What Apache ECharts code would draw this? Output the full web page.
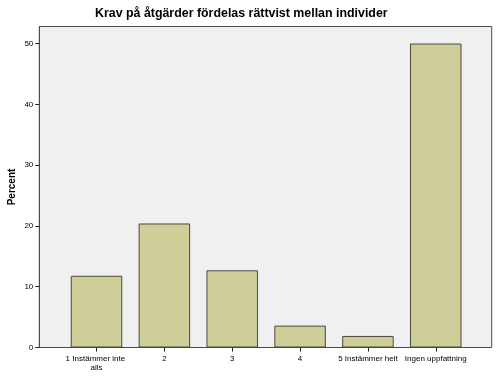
<!DOCTYPE html>
<html>
<head>
<meta charset="utf-8">
<script src="https://cdn.jsdelivr.net/npm/echarts@6/dist/echarts.min.js"></script>
<style>
html,body{margin:0;padding:0;background:#fff;}
#chart{width:497px;height:379px;}
</style>
</head>
<body>
<div id="chart"></div>
<script>
const title = 'Krav på åtgärder fördelas rättvist mellan individer';
const categories = ['1 Instämmer inte alls', '2', '3', '4', '5 Instämmer helt', 'Ingen uppfattning'];
const percentValues = [11.8, 20.4, 12.7, 3.6, 1.9, 50.0];
const yTicks = [0, 10, 20, 30, 40, 50];
const yMax = 52.8;

const chart = echarts.init(document.getElementById('chart'), null, {renderer: 'canvas'});
const font = 'Liberation Sans, Arial, sans-serif';
chart.setOption({
  animation: false,
  backgroundColor: '#ffffff',
  title: {
    text: title,
    left: 95,
    top: 8,
    padding: 0,
    textStyle: {fontFamily: font, fontSize: 12.4, fontWeight: 'bold', color: '#000'}
  },
  grid: [
    {left: 62.6, right: 27.3, top: 26.5, bottom: 31.5, show: false, outerBoundsMode: 'none', containLabel: false},
    {left: 39.3, right: 5.3, top: 26.5, bottom: 31.5, show: true, backgroundColor: '#f0f0f0', borderColor: '#4a4a4a', borderWidth: 1, z: -1, outerBoundsMode: 'none', containLabel: false}
  ],
  xAxis: [
    {
      type: 'category', gridIndex: 0, data: categories,
      axisLine: {show: false},
      axisTick: {show: true, alignWithLabel: true, length: 4, lineStyle: {color: '#222'}},
      axisLabel: {interval: 0, fontFamily: font, fontSize: 8, color: '#000', margin: 7, width: 66, overflow: 'break', lineHeight: 9}
    },
    {type: 'value', gridIndex: 1, show: false}
  ],
  yAxis: [
    {type: 'value', gridIndex: 0, min: 0, max: yMax, show: false},
    {
      type: 'value', gridIndex: 1, min: 0, max: yMax, position: 'left',
      name: 'Percent', nameLocation: 'middle', nameGap: 22.5, nameMoveOverlap: false,
      nameTextStyle: {fontFamily: font, fontSize: 10, fontWeight: 'bold', color: '#000'},
      axisLine: {show: true, lineStyle: {color: '#4a4a4a'}},
      axisTick: {show: true, inside: false, length: 4, customValues: yTicks, lineStyle: {color: '#222'}},
      axisLabel: {customValues: yTicks, fontFamily: font, fontSize: 8, color: '#000', margin: 6},
      splitLine: {show: false}
    }
  ],
  series: [{
    type: 'bar',
    xAxisIndex: 0, yAxisIndex: 0,
    data: percentValues,
    barWidth: 51.5,
    itemStyle: {color: '#cfcd98', borderColor: '#4b4a3e', borderWidth: 1}
  }]
});
</script>
</body>
</html>
